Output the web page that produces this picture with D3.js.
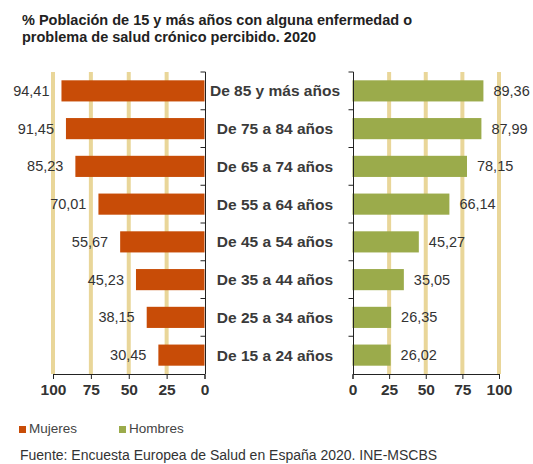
<!DOCTYPE html>
<html>
<head>
<meta charset="utf-8">
<script src="https://cdn.jsdelivr.net/npm/d3@7"></script>
<style>
  body { margin: 0; background: #fff; }
  svg { display: block; font-family: Arial, "Liberation Sans", sans-serif; }
</style>
</head>
<body>
<div id="chart"></div>
<script>
// age groups, top to bottom
var grupos = ["De 85 y más años", "De 75 a 84 años", "De 65 a 74 años", "De 55 a 64 años",
              "De 45 a 54 años", "De 35 a 44 años", "De 25 a 34 años", "De 15 a 24 años"];
var mujeres = [94.41, 91.45, 85.23, 70.01, 55.67, 45.23, 38.15, 30.45];
var hombres = [89.36, 87.99, 78.15, 66.14, 45.27, 35.05, 26.35, 26.02];
var ticks = [0, 25, 50, 75, 100];

var w = 533, h = 464;
var top_ = 72, bottom = 374;
var fmt = function(v) { return v.toFixed(2).replace(".", ","); };

var svg = d3.select("#chart").append("svg")
    .attr("width", w)
    .attr("height", h);

// title
svg.append("text")
    .attr("x", 22).attr("y", 25)
    .attr("font-size", 14.5).attr("font-weight", "bold").attr("fill", "#222")
    .text("% Población de 15 y más años con alguna enfermedad o");
svg.append("text")
    .attr("x", 22).attr("y", 42)
    .attr("font-size", 14.5).attr("font-weight", "bold").attr("fill", "#222")
    .text("problema de salud crónico percibido. 2020");

var y = d3.scaleBand().domain(grupos).range([top_, bottom]).paddingInner(0.44).paddingOuter(0.22);
var yTicks = d3.scaleBand().domain(grupos).range([top_, bottom]);

var xL = d3.scaleLinear().domain([0, 100]).range([204.5, 53]);
var xR = d3.scaleLinear().domain([0, 100]).range([352.5, 499]);

function panel(x, values, color, side) {
    var g = svg.append("g");

    // grid
    g.selectAll(".grid")
        .data(ticks.slice(1))
        .enter().append("line")
        .attr("x1", function(d) { return x(d); })
        .attr("x2", function(d) { return x(d); })
        .attr("y1", top_).attr("y2", bottom)
        .attr("stroke", "#e9d699")
        .attr("stroke-width", 4);

    // bars
    g.selectAll(".bar")
        .data(values)
        .enter().append("rect")
        .attr("x", function(d) { return Math.min(x(0), x(d)); })
        .attr("y", function(d, i) { return y(grupos[i]); })
        .attr("width", function(d) { return Math.abs(x(d) - x(0)); })
        .attr("height", y.bandwidth())
        .attr("fill", color);

    // value labels
    g.selectAll(".val")
        .data(values)
        .enter().append("text")
        .attr("x", function(d) { return side === "left" ? x(d) - 12 : x(d) + 10; })
        .attr("y", function(d, i) { return y(grupos[i]) + y.bandwidth() / 2 + 5; })
        .attr("text-anchor", side === "left" ? "end" : "start")
        .attr("font-size", 14.5)
        .attr("fill", "#333")
        .text(fmt);

    // bottom axis
    var ax = g.append("g")
        .attr("transform", "translate(0," + bottom + ")")
        .call(d3.axisBottom(x).tickValues(ticks).tickSize(5).tickPadding(5));
    ax.select(".domain").attr("stroke", "#222");
    ax.selectAll(".tick line").attr("stroke", "#222");
    ax.selectAll("text").attr("font-size", 15.5).attr("font-weight", "bold")
        .attr("fill", "#333").attr("font-family", "Arial, 'Liberation Sans', sans-serif");

    // vertical axis line with ticks between categories
    var x0 = Math.round(x(0)) + 0.5;
    g.append("line")
        .attr("x1", x0).attr("x2", x0)
        .attr("y1", top_).attr("y2", bottom)
        .attr("stroke", "#222");
    g.selectAll(".ytick")
        .data(grupos)
        .enter().append("line")
        .attr("x1", x0 - 5).attr("x2", x0)
        .attr("y1", function(d) { return yTicks(d); })
        .attr("y2", function(d) { return yTicks(d); })
        .attr("stroke", "#222");
}

panel(xL, mujeres, "#c84c07", "left");
panel(xR, hombres, "#9bab4b", "right");

// category labels in the middle
svg.selectAll(".cat")
    .data(grupos)
    .enter().append("text")
    .attr("x", 275)
    .attr("y", function(d) { return y(d) + y.bandwidth() / 2 + 5.5; })
    .attr("text-anchor", "middle")
    .attr("font-size", 15.5)
    .attr("font-weight", "bold")
    .attr("fill", "#3a3a3a")
    .text(function(d) { return d; });

// legend
var legend = [{ name: "Mujeres", color: "#c84c07", x: 19 }, { name: "Hombres", color: "#9bab4b", x: 119 }];
var lg = svg.selectAll(".legend")
    .data(legend)
    .enter().append("g")
    .attr("transform", function(d) { return "translate(" + d.x + ",433)"; });
lg.append("rect").attr("x", 0).attr("y", -7).attr("width", 7).attr("height", 7)
    .attr("fill", function(d) { return d.color; });
lg.append("text").attr("x", 10).attr("y", 0)
    .attr("font-size", 13.5).attr("fill", "#444")
    .text(function(d) { return d.name; });

// source
svg.append("text")
    .attr("x", 20).attr("y", 460)
    .attr("font-size", 14).attr("fill", "#333")
    .text("Fuente: Encuesta Europea de Salud en España 2020. INE-MSCBS");
</script>
</body>
</html>
